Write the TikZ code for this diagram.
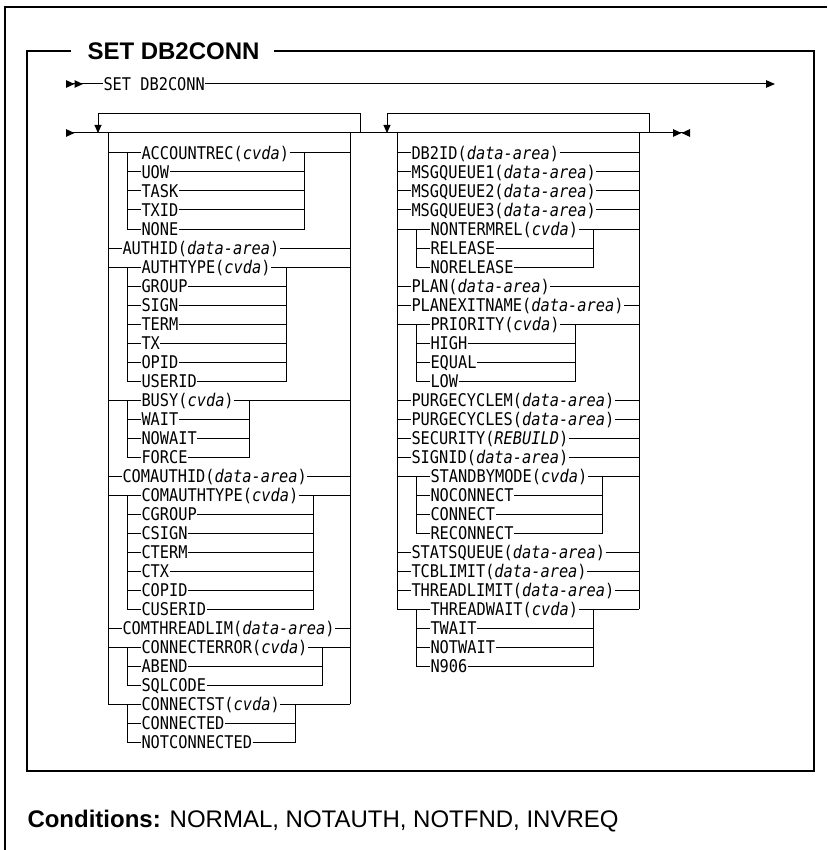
\documentclass[tikz,border=0pt]{standalone}
\usepackage{fontspec}
\usetikzlibrary{arrows.meta}
\newfontfamily\synfont[FakeStretch=0.875]{DejaVu Sans Mono}
\newfontfamily\hdfont{Liberation Sans}
\newcommand{\cvda}{\textit{cvda}}
\newcommand{\darea}{\textit{data-area}}
\begin{document}
\begin{tikzpicture}[
    x = 1pt,
    y = -1pt,
    line width = 1pt,
    kw/.style = {
        inner sep = 0pt,
        anchor = west,
        text height = 12.8pt,
        text depth = 0pt,
        font = \synfont\fontsize{17.5pt}{20pt}\selectfont
    },
    heading/.style = {
        inner sep = 0pt,
        anchor = west,
        text height = 17.2pt,
        text depth = 0pt,
        font = \hdfont\bfseries\fontsize{24pt}{28pt}\selectfont
    },
    cond/.style = {
        inner sep = 0pt,
        anchor = base west,
        font = \hdfont\fontsize{24pt}{28pt}\selectfont
    },
    frame/.style = {line width = 1.2pt},
    loopar/.style = {-{Triangle[length = 8pt, width = 7pt]}}
]
    \useasboundingbox (0,0) rectangle (827,850);

    % Frames
    \draw [frame] (5,850) -- (5,7) -- (827,7);
    \node [heading] (ttl) at (87,51) {SET DB2CONN};
    \coordinate (fNE) at (814,51);
    \coordinate (fSE) at (814,771);
    \coordinate (fSW) at (27,771);
    \coordinate (fNW) at (27,51);
    \draw [frame] ([xshift = 14pt]ttl.east) -- (fNE) -- (fSE) -- (fSW) -- (fNW) -- ([xshift = -16pt]ttl.west);

    % Main line
    \coordinate (s1) at (66,84);
    \coordinate (e1) at (775,84);
    \node [kw] (sd) at (103,84) {SET DB2CONN};
    \draw [{Triangle[reversed, length = 8.5pt, width = 7.5pt, sep = 0pt] Triangle[reversed, length = 8.5pt, width = 7.5pt]}-] (s1) -- (sd.west);
    \draw [-{Triangle[length = 9pt, width = 7.5pt]}] (sd.east) -- (e1);

    % Option line
    \coordinate (s2) at (66,133);
    \coordinate (e2) at (690,133);
    \draw [{Triangle[reversed, length = 8.5pt, width = 7.5pt]}-{Triangle[length = 8.5pt, width = 7.5pt, sep = 0pt] Triangle[reversed, length = 8.5pt, width = 7.5pt]}] (s2) -- (e2);

    % Repeat loops
    \coordinate (lpA) at (360,133);
    \coordinate (lpB) at (98,133);
    \coordinate (rpA) at (649,133);
    \coordinate (rpB) at (387,133);
    \draw [loopar] (lpA) -- ++(0,-19) -| (lpB);
    \draw [loopar] (rpA) -- ++(0,-19) -| (rpB);

    % Rails
    \coordinate (lL) at (108,133);
    \coordinate (lI) at (127,133);
    \coordinate (lR) at (350,133);
    \coordinate (rL) at (397,133);
    \coordinate (rI) at (416,133);
    \coordinate (rR) at (639,133);

    % Left nodes
    \node [kw] (l0) at (141,153) {ACCOUNTREC(\cvda)};
    \node [kw] (l1) at (141,172) {UOW};
    \node [kw] (l2) at (141,191) {TASK};
    \node [kw] (l3) at (141,210) {TXID};
    \node [kw] (l4) at (141,229) {NONE};
    \node [kw] (l5) at (122,248) {AUTHID(\darea)};
    \node [kw] (l6) at (141,267) {AUTHTYPE(\cvda)};
    \node [kw] (l7) at (141,286) {GROUP};
    \node [kw] (l8) at (141,305) {SIGN};
    \node [kw] (l9) at (141,324) {TERM};
    \node [kw] (l10) at (141,343) {TX};
    \node [kw] (l11) at (141,362) {OPID};
    \node [kw] (l12) at (141,381) {USERID};
    \node [kw] (l13) at (141,400) {BUSY(\cvda)};
    \node [kw] (l14) at (141,419) {WAIT};
    \node [kw] (l15) at (141,438) {NOWAIT};
    \node [kw] (l16) at (141,457) {FORCE};
    \node [kw] (l17) at (122,476) {COMAUTHID(\darea)};
    \node [kw] (l18) at (141,495) {COMAUTHTYPE(\cvda)};
    \node [kw] (l19) at (141,514) {CGROUP};
    \node [kw] (l20) at (141,533) {CSIGN};
    \node [kw] (l21) at (141,552) {CTERM};
    \node [kw] (l22) at (141,571) {CTX};
    \node [kw] (l23) at (141,590) {COPID};
    \node [kw] (l24) at (141,609) {CUSERID};
    \node [kw] (l25) at (122,628) {COMTHREADLIM(\darea)};
    \node [kw] (l26) at (141,647) {CONNECTERROR(\cvda)};
    \node [kw] (l27) at (141,666) {ABEND};
    \node [kw] (l28) at (141,685) {SQLCODE};
    \node [kw] (l29) at (141,704) {CONNECTST(\cvda)};
    \node [kw] (l30) at (141,723) {CONNECTED};
    \node [kw] (l31) at (141,742) {NOTCONNECTED};

    % Right nodes
    \node [kw] (r0) at (411,153) {DB2ID(\darea)};
    \node [kw] (r1) at (411,172) {MSGQUEUE1(\darea)};
    \node [kw] (r2) at (411,191) {MSGQUEUE2(\darea)};
    \node [kw] (r3) at (411,210) {MSGQUEUE3(\darea)};
    \node [kw] (r4) at (430,229) {NONTERMREL(\cvda)};
    \node [kw] (r5) at (430,248) {RELEASE};
    \node [kw] (r6) at (430,267) {NORELEASE};
    \node [kw] (r7) at (411,286) {PLAN(\darea)};
    \node [kw] (r8) at (411,305) {PLANEXITNAME(\darea)};
    \node [kw] (r9) at (430,324) {PRIORITY(\cvda)};
    \node [kw] (r10) at (430,343) {HIGH};
    \node [kw] (r11) at (430,362) {EQUAL};
    \node [kw] (r12) at (430,381) {LOW};
    \node [kw] (r13) at (411,400) {PURGECYCLEM(\darea)};
    \node [kw] (r14) at (411,419) {PURGECYCLES(\darea)};
    \node [kw] (r15) at (411,438) {SECURITY(\textit{REBUILD})};
    \node [kw] (r16) at (411,457) {SIGNID(\darea)};
    \node [kw] (r17) at (430,476) {STANDBYMODE(\cvda)};
    \node [kw] (r18) at (430,495) {NOCONNECT};
    \node [kw] (r19) at (430,514) {CONNECT};
    \node [kw] (r20) at (430,533) {RECONNECT};
    \node [kw] (r21) at (411,552) {STATSQUEUE(\darea)};
    \node [kw] (r22) at (411,571) {TCBLIMIT(\darea)};
    \node [kw] (r23) at (411,590) {THREADLIMIT(\darea)};
    \node [kw] (r24) at (430,609) {THREADWAIT(\cvda)};
    \node [kw] (r25) at (430,628) {TWAIT};
    \node [kw] (r26) at (430,647) {NOTWAIT};
    \node [kw] (r27) at (430,666) {N906};

    % Main rails
    \draw (lL) -- (lL |- l29);
    \draw (lR) -- (lR |- l29);
    \draw (rL) -- (rL |- r24);
    \draw (rR) -- (rR |- r24);

    % Single items
    \foreach \n in {l5, l17, l25} {
        \draw (lL |- \n) -- (\n.west);
        \draw (\n.east) -- (lR |- \n);
    }
    \foreach \n in {r0, r1, r2, r3, r7, r8, r13, r14, r15, r16, r21, r22, r23} {
        \draw (rL |- \n) -- (\n.west);
        \draw (\n.east) -- (rR |- \n);
    }

    % Choice groups
    \foreach \f/\m in {l0/{l1, l2, l3, l4}, l6/{l7, l8, l9, l10, l11, l12},
                       l13/{l14, l15, l16}, l18/{l19, l20, l21, l22, l23, l24},
                       l26/{l27, l28}, l29/{l30, l31}} {
        \draw (lL |- \f) -- (\f.west);
        \draw (\f.east) -- (lR |- \f);
        \foreach \k in \m {
            \draw (lI |- \f) |- (\k.west);
            \draw (\k.east) -| ([xshift = 15pt]\f.east);
        }
    }
    \foreach \f/\m in {r4/{r5, r6}, r9/{r10, r11, r12},
                       r17/{r18, r19, r20}, r24/{r25, r26, r27}} {
        \draw (rL |- \f) -- (\f.west);
        \draw (\f.east) -- (rR |- \f);
        \foreach \k in \m {
            \draw (rI |- \f) |- (\k.west);
            \draw (\k.east) -| ([xshift = 15pt]\f.east);
        }
    }

    % Conditions
    \node [cond] (cnd) at (27,827) {\textbf{Conditions:} NORMAL, NOTAUTH, NOTFND, INVREQ};

\end{tikzpicture}
\end{document}
